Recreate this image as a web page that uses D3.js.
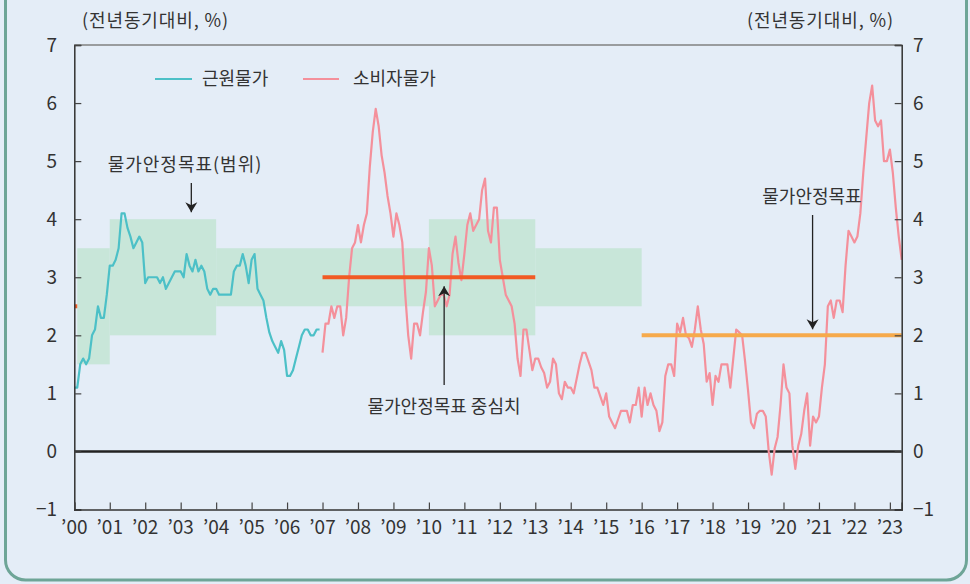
<!DOCTYPE html>
<html><head><meta charset="utf-8">
<script src="https://cdn.jsdelivr.net/npm/d3@7"></script>
<style>
html,body{margin:0;padding:0;background:#e4edf7;}
svg{display:block;font-family:"Noto Sans CJK KR","Noto Sans",sans-serif;}
</style></head><body>
<svg id="c" width="970" height="584"></svg>
<script>
// ---- data ----
const coreStart = 2000; // Jan 2000, monthly
const coreValues = [1.1,1.1,1.5,1.6,1.5,1.6,2.0,2.1,2.5,2.3,2.3,2.7,
 3.2,3.2,3.3,3.5,4.1,4.1,3.85,3.7,3.5,3.6,3.7,3.6,
 2.9,3.0,3.0,3.0,3.0,2.9,3.0,2.8,2.9,3.0,3.1,3.1,
 3.1,3.0,3.4,3.2,3.1,3.3,3.1,3.2,3.1,2.8,2.7,2.8,
 2.8,2.7,2.7,2.7,2.7,2.7,3.1,3.2,3.2,3.4,3.2,2.9,
 3.3,3.4,2.8,2.7,2.6,2.3,2.05,1.9,1.8,1.7,1.9,1.75,
 1.3,1.3,1.4,1.6,1.8,2.0,2.1,2.1,2.0,2.0,2.1,2.1];
const cpiStart = 2007; // Jan 2007, monthly
const cpiValues = [
 1.7,2.2,2.2,2.5,2.3,2.5,2.5,2.0,2.3,3.0,3.5,3.6,
 3.9,3.6,3.9,4.1,4.9,5.5,5.9,5.6,5.1,4.8,4.4,4.1,
 3.7,4.1,3.9,3.6,2.7,2.0,1.6,2.2,2.2,2.0,2.4,2.75,
 3.5,3.2,2.5,2.6,2.7,2.7,2.5,2.7,3.4,3.7,3.25,2.95,
 3.4,3.9,4.1,3.8,3.9,4.0,4.5,4.7,3.8,3.6,4.2,4.2,
 3.3,3.0,2.7,2.6,2.5,2.2,1.6,1.3,2.1,2.1,1.75,1.4,
 1.6,1.6,1.45,1.35,1.1,1.2,1.6,1.5,1.0,0.9,1.2,1.1,
 1.1,1.0,1.25,1.5,1.7,1.7,1.55,1.4,1.1,1.1,0.95,0.8,
 1.0,0.6,0.5,0.4,0.55,0.7,0.7,0.7,0.5,0.8,0.8,1.1,
 0.6,1.1,0.8,1.0,0.8,0.7,0.35,0.5,1.3,1.5,1.5,1.3,
 2.2,2.05,2.3,2.0,1.95,1.8,2.1,2.5,2.1,1.85,1.2,1.35,
 0.8,1.3,1.2,1.5,1.5,1.5,1.1,1.6,2.1,2.05,2.0,1.55,
 1.05,0.5,0.4,0.65,0.7,0.7,0.6,0.0,-0.4,0.05,0.25,0.8,
 1.5,1.1,1.0,0.1,-0.3,0.1,0.3,0.7,1.0,0.1,0.6,0.5,
 0.6,1.1,1.5,2.5,2.6,2.3,2.6,2.6,2.4,3.2,3.8,3.7,
 3.6,3.7,4.1,4.8,5.4,6.0,6.3,5.7,5.6,5.7,5.0,5.0,
 5.2,4.8,4.2,3.7,3.3];
// inflation target ranges [start, end, low, high]
const targetBands = [[2000+1/12,2001,1.5,3.5],[2001,2004,2,4],[2004,2010,2.5,3.5],[2010,2013,2,4],[2013,2016,2.5,3.5]];
const centerLines = [[2000,2000+1/12,2.5],[2007,2013,3.0]];
const pointTarget = [[2016,2023+4/12,2.0]];
const yTicks = [-1,0,1,2,3,4,5,6,7];
const xTickYears = d3.range(2000,2024);
const xTickLabels = xTickYears.map(y=>"’"+String(y%100).padStart(2,"0"));
const seriesNames = ["근원물가","소비자물가"];
const unitLabel = "(전년동기대비, %)";

// ---- layout ----
const svg = d3.select("#c");
const L=74.3,R=901.7,T=45,B=509.5;
const x = d3.scaleLinear().domain([2000,2023+4/12]).range([L,R]);
const y = d3.scaleLinear().domain([-1,7]).range([B,T]);
const col = {text:"#333",teal:"#4cc0c7",pink:"#f4909b",red:"#f15a24",orange:"#f6aa4c",band:"#c8e6d9",axis:"#333"};

svg.append("rect").attr("x",5.5).attr("y",-40).attr("width",961).attr("height",620)
 .attr("rx",20).attr("fill","#e4edf7").attr("stroke","#6ea597").attr("stroke-width",3);

// bands
svg.append("g").selectAll("rect").data(targetBands).join("rect")
 .attr("x",d=>x(d[0])).attr("width",d=>x(d[1])-x(d[0]))
 .attr("y",d=>y(d[3])).attr("height",d=>y(d[2])-y(d[3]))
 .attr("fill",col.band);

// zero line
svg.append("line").attr("x1",L).attr("x2",R).attr("y1",y(0)).attr("y2",y(0))
 .attr("stroke","#222").attr("stroke-width",2.5);

// series
const coreData = coreValues.map((v,i)=>({t:coreStart+i/12,v}));
const cpiData = cpiValues.map((v,i)=>({t:cpiStart+i/12,v}));
const line = d3.line().x(d=>x(d.t)).y(d=>y(d.v));
svg.append("path").datum(coreData).attr("d",line).attr("fill","none")
 .attr("stroke",col.teal).attr("stroke-width",2.2).attr("stroke-linejoin","round");
svg.append("path").datum(cpiData).attr("d",line).attr("fill","none")
 .attr("stroke",col.pink).attr("stroke-width",2.2).attr("stroke-linejoin","round");

// center lines
svg.append("g").selectAll("line").data(centerLines).join("line")
 .attr("x1",d=>x(d[0])).attr("x2",d=>x(d[1])).attr("y1",d=>y(d[2])).attr("y2",d=>y(d[2]))
 .attr("stroke",col.red).attr("stroke-width",4);
svg.append("g").selectAll("line").data(pointTarget).join("line")
 .attr("x1",d=>x(d[0])).attr("x2",d=>x(d[1])).attr("y1",d=>y(d[2])).attr("y2",d=>y(d[2]))
 .attr("stroke",col.orange).attr("stroke-width",4);

// top frame line
svg.append("line").attr("x1",L).attr("x2",R).attr("y1",T).attr("y2",T).attr("stroke","#808080").attr("stroke-width",1.5);

// axes
const yl = svg.append("g").attr("transform",`translate(${L},0)`)
 .call(d3.axisRight(y).tickValues(yTicks).tickSize(7).tickFormat(""));
const yr = svg.append("g").attr("transform",`translate(${R},0)`)
 .call(d3.axisLeft(y).tickValues(yTicks).tickSize(7).tickFormat(""));
const xa = svg.append("g").attr("transform",`translate(0,${B})`)
 .call(d3.axisTop(x).tickValues(xTickYears).tickSize(7).tickFormat(""));
[yl,yr,xa].forEach(g=>{g.select(".domain").attr("stroke",col.axis).attr("stroke-width",1.5);
 g.selectAll(".tick line").attr("stroke","#444").attr("stroke-width",1.2);});

const fmt = v=> v<0 ? "−"+Math.abs(v) : String(v);
svg.append("g").selectAll("text").data(yTicks).join("text")
 .attr("x",57).attr("y",d=>y(d)).attr("dy","0.35em").attr("text-anchor","end")
 .attr("font-size",19).attr("fill",col.text).text(fmt);
svg.append("g").selectAll("text").data(yTicks).join("text")
 .attr("x",913).attr("y",d=>y(d)).attr("dy","0.35em").attr("text-anchor","start")
 .attr("font-size",19).attr("fill",col.text).text(fmt);
svg.append("g").selectAll("text").data(xTickYears).join("text")
 .attr("x",d=>x(d)).attr("y",534).attr("text-anchor","middle")
 .attr("font-size",19).attr("fill",col.text).text((d,i)=>xTickLabels[i]);

svg.append("text").attr("x",82).attr("y",27).attr("font-size",18).attr("letter-spacing",0.9).attr("fill",col.text).text(unitLabel);
svg.append("text").attr("x",894).attr("y",27).attr("text-anchor","end").attr("font-size",18).attr("letter-spacing",0.9).attr("fill",col.text).text(unitLabel);

// legend
const lg = svg.append("g");
lg.append("line").attr("x1",155).attr("x2",192).attr("y1",79).attr("y2",79).attr("stroke",col.teal).attr("stroke-width",2.2);
lg.append("text").attr("x",202).attr("y",79).attr("dy","0.35em").attr("font-size",18).attr("fill",col.text).text(seriesNames[0]);
lg.append("line").attr("x1",303).attr("x2",339).attr("y1",79).attr("y2",79).attr("stroke",col.pink).attr("stroke-width",2.2);
lg.append("text").attr("x",353).attr("y",79).attr("dy","0.35em").attr("font-size",18).attr("fill",col.text).text(seriesNames[1]);

// annotations
const defs = svg.append("defs");
defs.append("marker").attr("id","ah").attr("viewBox","0 0 10 16").attr("refX",10).attr("refY",8)
 .attr("markerWidth",10).attr("markerHeight",16).attr("markerUnits","userSpaceOnUse").attr("orient","auto")
 .append("path").attr("d","M0,2 L10,8 L0,14 L3,8 Z").attr("fill","#222");
function arrow(x0,y0,x1,y1){
 svg.append("line").attr("x1",x0).attr("y1",y0).attr("x2",x1).attr("y2",y1)
  .attr("stroke","#222").attr("stroke-width",1.3).attr("marker-end","url(#ah)");
}
svg.append("text").attr("x",185).attr("y",165).attr("dy","0.35em").attr("text-anchor","middle")
 .attr("font-size",18).attr("letter-spacing",1).attr("fill",col.text).text("물가안정목표(범위)");
arrow(x(2003.3),183,x(2003.3),y(4)-7);
svg.append("text").attr("x",444).attr("y",407).attr("dy","0.35em").attr("text-anchor","middle")
 .attr("font-size",18).attr("fill",col.text).text("물가안정목표 중심치");
arrow(x(2010.43),385,x(2010.43),y(3)+9);
svg.append("text").attr("x",812).attr("y",197).attr("dy","0.35em").attr("text-anchor","middle")
 .attr("font-size",18).attr("fill",col.text).text("물가안정목표");
arrow(x(2020.82),215,x(2020.82),y(2)-6);
</script></body></html>
